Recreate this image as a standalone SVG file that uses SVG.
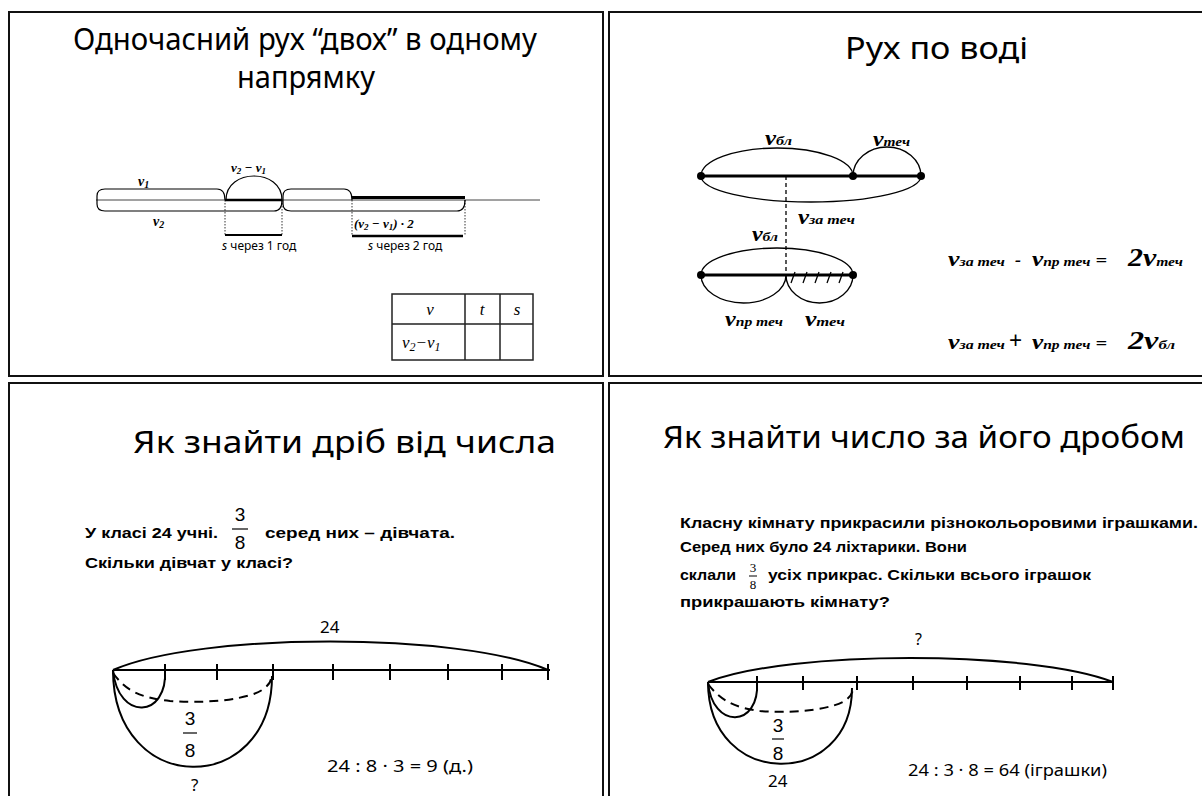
<svg xmlns="http://www.w3.org/2000/svg" width="1202" height="796" viewBox="0 0 1202 796">
<style>
.frame{fill:none;stroke:#111;stroke-width:2}
.title{font-family:"Noto Sans","Liberation Sans",sans-serif;font-size:30px;fill:#000}
.ln{stroke:#000;stroke-width:2;fill:none}
.thin{stroke:#444;stroke-width:1;fill:none}
.dot{stroke:#000;stroke-width:0.8;stroke-dasharray:1.5 1.5;fill:none}
.dash{stroke:#000;stroke-width:2;stroke-dasharray:9 6;fill:none}
.vi{font-family:"Liberation Serif",serif;font-style:italic;font-weight:bold;fill:#000}
.it{font-family:"Liberation Serif",serif;font-style:italic;fill:#000}
.s{font-family:"Noto Sans","Liberation Sans",sans-serif;fill:#000}
.b{font-family:"Liberation Sans",sans-serif;font-weight:bold;font-size:15px;fill:#000}
.fr{font-family:"Liberation Sans",sans-serif;font-size:19px;fill:#000;text-anchor:middle}
</style>
<rect width="1202" height="796" fill="#fff"/>
<g id="frames">
<rect class="frame" x="9" y="12" width="594" height="364"/>
<rect class="frame" x="609" y="12" width="600" height="364"/>
<rect class="frame" x="9" y="383" width="594" height="420"/>
<rect class="frame" x="609" y="383" width="600" height="420"/>
</g>
<g id="titles">
<text class="title" x="73" y="50" textLength="464" lengthAdjust="spacingAndGlyphs">Одночасний рух “двох” в одному</text>
<text class="title" x="237" y="88" textLength="138" lengthAdjust="spacingAndGlyphs">напрямку</text>
<text class="title" x="845" y="59" textLength="183" lengthAdjust="spacingAndGlyphs">Рух по воді</text>
<text class="title" x="133" y="453" textLength="423" lengthAdjust="spacingAndGlyphs">Як знайти дріб від числа</text>
<text class="title" x="663" y="448" textLength="522" lengthAdjust="spacingAndGlyphs">Як знайти число за його дробом</text>
</g>
<g id="motion-diagram">
<path class="thin" d="M96,200 H540"/>
<path class="ln" style="stroke-width:1.2" d="M225,200 Q225,189 217,189 L105,189 Q97,189 97,196 L97,204 Q97,211 105,211 L274,211 Q282,211 282,200"/>
<path class="ln" style="stroke-width:1.2" d="M352,200 Q352,189 344,189 L291,189 Q283,189 283,196 L283,204 Q283,211 291,211 L457,211 Q465,211 465,200"/>
<path class="ln" style="stroke-width:1.2" d="M226,200 C226,168 282,168 282,200"/>
<path class="ln" style="stroke-width:2.5" d="M225,200 H282"/>
<path class="ln" style="stroke-width:3" d="M352,197.5 H465"/>
<path class="dot" d="M225,200 V235 M282,200 V235 M352,200 V236 M465,200 V236"/>
<path class="ln" d="M225,235 H282"/>
<path class="ln" style="stroke-width:2.5" d="M352,236 H463"/>
<text class="vi" x="138" y="186" font-size="14">v<tspan font-size="10" dy="2">1</tspan></text>
<text class="vi" x="153" y="226" font-size="14">v<tspan font-size="10" dy="2">2</tspan></text>
<text class="vi" x="231" y="172" font-size="13">v<tspan font-size="9" dy="2">2</tspan><tspan dy="-2"> − v</tspan><tspan font-size="9" dy="2">1</tspan></text>
<text class="vi" x="354" y="228" font-size="13">(v<tspan font-size="9" dy="2">2</tspan><tspan dy="-2"> − v</tspan><tspan font-size="9" dy="2">1</tspan><tspan dy="-2">) · 2</tspan></text>
<text class="s" x="222" y="250" font-size="12"><tspan font-style="italic">s</tspan> через  1 год</text>
<text class="s" x="368" y="250" font-size="12"><tspan font-style="italic">s</tspan> через  2 год</text>
</g>
<g id="table">
<rect x="392" y="294" width="141" height="66" fill="none" stroke="#222" stroke-width="1.5"/>
<path d="M465,294 V360 M500,294 V360 M392,324 H533" stroke="#222" stroke-width="1.5"/>
<text class="it" x="430" y="315" font-size="17" text-anchor="middle">v</text>
<text class="it" x="482" y="315" font-size="17" text-anchor="middle">t</text>
<text class="it" x="517" y="315" font-size="17" text-anchor="middle">s</text>
<text class="it" x="402" y="348" font-size="17">v<tspan font-size="12" dy="3">2</tspan><tspan dy="-3">−v</tspan><tspan font-size="12" dy="3">1</tspan></text>
</g>
<g id="water-diagram">
<path class="ln" style="stroke-width:3" d="M701,176 H921"/>
<path class="ln" style="stroke-width:1.3" d="M701,176 A76,28 0 0 1 853,176"/>
<path class="ln" style="stroke-width:1.3" d="M853,176 A34,29 0 0 1 921,176"/>
<path class="ln" style="stroke-width:1.3" d="M701,176 A110,26 0 0 0 921,176"/>
<circle cx="701" cy="176" r="4"/><circle cx="853" cy="176" r="4"/><circle cx="921" cy="176" r="4"/>
<path d="M786,176 V275" stroke="#000" stroke-width="1.3" stroke-dasharray="4 3"/>
<path class="ln" style="stroke-width:3" d="M701,275 H853"/>
<path class="ln" style="stroke-width:1.3" d="M701,275 A76,27 0 0 1 853,275"/>
<path class="ln" style="stroke-width:1.3" d="M701,275 A42.5,28 0 0 0 786,275"/>
<path class="ln" style="stroke-width:1.3" d="M786,275 A33.5,28 0 0 0 853,275"/>
<path class="ln" style="stroke-width:1.3" d="M791,283 L795,272 M803,283 L807,272 M815,283 L819,272 M827,283 L831,272 M839,283 L843,272"/>
<circle cx="701" cy="275" r="4"/><circle cx="853" cy="275" r="4"/>
<text class="vi" x="765" y="145" font-size="20" textLength="27" lengthAdjust="spacingAndGlyphs">v<tspan font-size="13">бл</tspan></text>
<text class="vi" x="873" y="146" font-size="20" textLength="37" lengthAdjust="spacingAndGlyphs">v<tspan font-size="13">теч</tspan></text>
<text class="vi" x="798" y="224" font-size="20" textLength="57" lengthAdjust="spacingAndGlyphs">v<tspan font-size="13">за теч</tspan></text>
<text class="vi" x="752" y="241" font-size="20" textLength="26" lengthAdjust="spacingAndGlyphs">v<tspan font-size="13">бл</tspan></text>
<text class="vi" x="725" y="326" font-size="20" textLength="58" lengthAdjust="spacingAndGlyphs">v<tspan font-size="13">пр теч</tspan></text>
<text class="vi" x="805" y="326" font-size="20" textLength="40" lengthAdjust="spacingAndGlyphs">v<tspan font-size="13">теч</tspan></text>
</g>
<g id="water-formulas">
<text class="vi" x="948" y="266" font-size="21" textLength="57" lengthAdjust="spacingAndGlyphs">v<tspan font-size="13">за теч</tspan></text>
<text class="vi" x="1015" y="266" font-size="18">-</text>
<text class="vi" x="1032" y="266" font-size="21" textLength="75" lengthAdjust="spacingAndGlyphs">v<tspan font-size="13">пр теч</tspan><tspan font-size="17"> =</tspan></text>
<text class="vi" x="1128" y="266" font-size="25" textLength="55" lengthAdjust="spacingAndGlyphs">2v<tspan font-size="13">теч</tspan></text>
<text class="vi" x="948" y="349" font-size="21" textLength="57" lengthAdjust="spacingAndGlyphs">v<tspan font-size="13">за теч</tspan></text>
<text class="s" x="1009" y="349" font-size="23">+</text>
<text class="vi" x="1032" y="349" font-size="21" textLength="75" lengthAdjust="spacingAndGlyphs">v<tspan font-size="13">пр теч</tspan><tspan font-size="17"> =</tspan></text>
<text class="vi" x="1128" y="349" font-size="25" textLength="47" lengthAdjust="spacingAndGlyphs">2v<tspan font-size="13">бл</tspan></text>
</g>
<g id="fraction-of-number">
<text class="b" x="85" y="538" font-size="16" textLength="133" lengthAdjust="spacingAndGlyphs">У класі 24 учні.</text>
<text class="fr" x="240" y="521">3</text>
<path d="M232,529 H248" stroke="#000" stroke-width="1.2"/>
<text class="fr" x="240" y="549">8</text>
<text class="b" x="265" y="538" font-size="16" textLength="190" lengthAdjust="spacingAndGlyphs">серед них – дівчата.</text>
<text class="b" x="85" y="568" font-size="16" textLength="208" lengthAdjust="spacingAndGlyphs">Скільки дівчат у класі?</text>
<text class="s" x="320" y="633" font-size="17">24</text>
<path class="ln" d="M113,670 H550"/>
<path class="ln" d="M165,664 V680 M217,664 V680 M273,664 V680 M333,664 V680 M390,664 V680 M448,664 V680 M502,664 V680 M548,664 V680"/>
<path class="ln" d="M113,670 C200,632 460,632 548,670"/>
<path class="ln" d="M113,670 C118,722 168,718 165,670"/>
<path class="dash" d="M113,673 C125,690 140,698 170,701 C215,704 250,698 262,690 C268,686 271,682 271,678"/>
<path class="ln" d="M113,670 C113,798 272,798 272,676"/>
<text class="fr" x="190" y="725">3</text>
<path d="M183,733 H197" stroke="#000" stroke-width="1.2"/>
<text class="fr" x="190" y="757">8</text>
<text class="s" x="191" y="791" font-size="17">?</text>
<text class="s" x="327" y="772" font-size="17" textLength="146" lengthAdjust="spacingAndGlyphs">24 : 8 · 3 = 9 (д.)</text>
</g>
<g id="number-by-fraction">
<text class="b" x="680" y="528" textLength="518" lengthAdjust="spacingAndGlyphs">Класну кімнату прикрасили  різнокольоровими іграшками.</text>
<text class="b" x="680" y="552" textLength="287" lengthAdjust="spacingAndGlyphs">Серед них було 24 ліхтарики.  Вони</text>
<text class="b" x="680" y="580" textLength="56" lengthAdjust="spacingAndGlyphs">склали</text>
<text x="753" y="572" font-family="Liberation Serif,serif" font-size="13" text-anchor="middle">3</text>
<path d="M749,576 H757" stroke="#000" stroke-width="1"/>
<text x="753" y="589" font-family="Liberation Serif,serif" font-size="13" text-anchor="middle">8</text>
<text class="b" x="768" y="580" textLength="323" lengthAdjust="spacingAndGlyphs">усіх прикрас.  Скільки всього іграшок</text>
<text class="b" x="680" y="607" textLength="210" lengthAdjust="spacingAndGlyphs">прикрашають кімнату?</text>
<text class="s" x="915" y="645" font-size="16">?</text>
<path class="ln" d="M708,682 H1113"/>
<path class="ln" d="M757,676 V690 M803,676 V690 M857,676 V690 M913,676 V690 M967,676 V690 M1020,676 V690 M1072,676 V690 M1113,676 V690"/>
<path class="ln" d="M708,682 C790,650 1030,650 1113,682"/>
<path class="ln" d="M708,682 C712,730 760,728 757,682"/>
<path class="dash" d="M708,684 C720,700 735,708 760,711 C800,714 835,708 846,700 C851,696 853,692 853,688"/>
<path class="ln" d="M708,682 C708,790 852,790 852,688"/>
<text class="fr" x="778" y="732">3</text>
<path d="M772,739 H784" stroke="#000" stroke-width="1.2"/>
<text class="fr" x="778" y="760">8</text>
<text class="s" x="768" y="787" font-size="17">24</text>
<text class="s" x="908" y="776" font-size="17" textLength="199" lengthAdjust="spacingAndGlyphs">24 : 3 · 8 = 64 (іграшки)</text>
</g>
</svg>
